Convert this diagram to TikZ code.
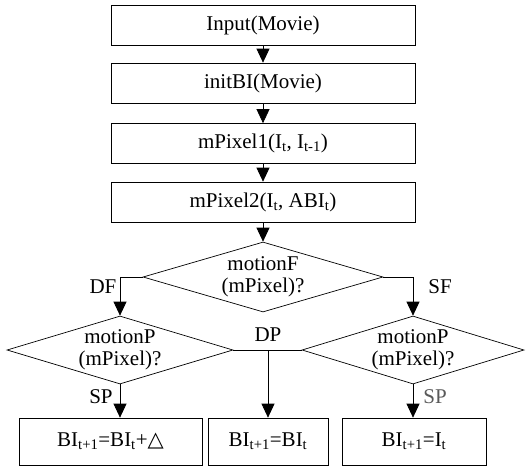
\documentclass[tikz,border=0pt]{standalone}
\usepackage{fontspec}
\setmainfont{Liberation Serif}
\newfontfamily\symfont{DejaVu Sans}
\usetikzlibrary{shapes.geometric, arrows.meta}
\tikzset{
  stepbox/.style={draw, rectangle, minimum height=40pt, inner sep=0pt},
  decide/.style={draw, diamond, inner sep=0pt, minimum height=68pt},
  flow/.style={-{Triangle[length=14pt,width=13pt]}},
}

\begin{document}
\begin{tikzpicture}[x=1pt, y=-1pt, line width=0.7pt, font=\fontsize{21}{22}\selectfont]
\useasboundingbox (0,0) rectangle (532,466);
% main column
\node[stepbox, minimum width=304pt] (input) at (263,25) {Input(Movie)};
\node[stepbox, minimum width=304pt] (init) at (263,83) {initBI(Movie)};
\node[stepbox, minimum width=304pt] (mp1) at (263,143.5) {mPixel1(I\textsubscript{t}, I\textsubscript{t-1})};
\node[stepbox, minimum width=304pt] (mp2) at (263,202) {mPixel2(I\textsubscript{t}, ABI\textsubscript{t})};
\draw[flow] (input) -- (init);
\draw[flow] (init) -- (mp1);
\draw[flow] (mp1) -- (mp2);
% decisions
\node[decide, minimum width=240pt, minimum height=70pt, label={[align=center]center:motionF\\(mPixel)?}] (dF) at (263,277) {};
\node[decide, minimum width=226pt, label={[align=center]center:motionP\\(mPixel)?}] (dPL) at (120,350) {};
\node[decide, minimum width=222pt, label={[align=center]center:motionP\\(mPixel)?}] (dPR) at (413,350) {};
\draw[flow] (mp2) -- (dF);
\draw[flow] (dF.west) -| (dPL.north);
\draw[flow] (dF.east) -| (dPR.north);
% results
\node[stepbox, minimum width=183pt, minimum height=47pt] (bL) at (110.5,441.5) {BI\textsubscript{t+1}=BI\textsubscript{t}+{\symfont △}};
\node[stepbox, minimum width=120pt, minimum height=47pt] (bM) at (268,441.5) {BI\textsubscript{t+1}=BI\textsubscript{t}};
\node[stepbox, minimum width=144pt, minimum height=47pt] (bR) at (414,441.5) {BI\textsubscript{t+1}=I\textsubscript{t}};
\draw (dPL.east) -- (dPR.west);
\draw[flow] (bM.north |- dPL.east) -- (bM.north);
\draw[flow] (dPL.south) -- (dPL.south |- bL.north);
\draw[flow] (dPR.south) -- (dPR.south |- bR.north);
% branch labels
\node (tDF) at (103,287) {DF};
\node (tSF) at (440,287) {SF};
\node (tDP) at (268,335) {DP};
\node (tSPL) at (101,397) {SP};
\node[text=black!65] (tSPR) at (435,397) {SP};
\end{tikzpicture}
\end{document}
